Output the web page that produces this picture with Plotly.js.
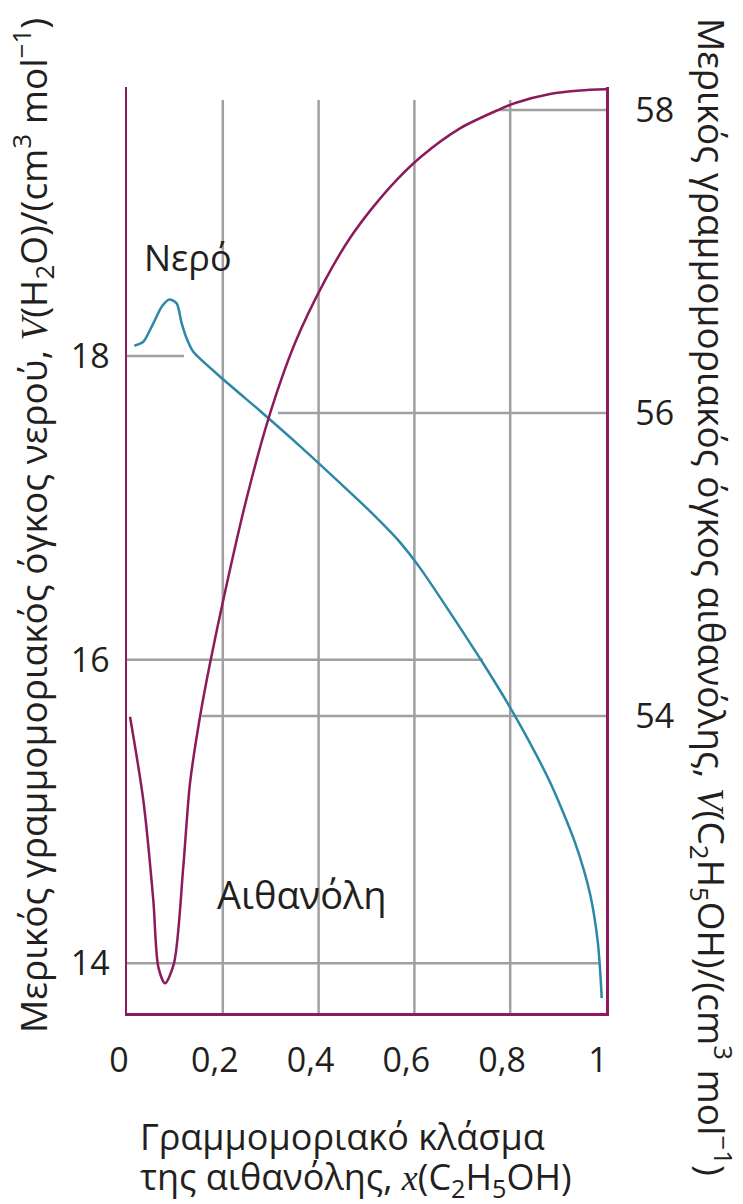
<!DOCTYPE html>
<html>
<head>
<meta charset="utf-8">
<script src="https://cdn.plot.ly/plotly-3.0.1.min.js"></script>
<style>html,body{margin:0;padding:0;background:#fff;}#chart{width:743px;height:1204px;}</style>
</head>
<body>
<div id="chart"></div>
<script>
// ---- data ----
const waterX = [0.0153, 0.0341, 0.0549, 0.0724, 0.0883, 0.1037, 0.1142, 0.1259, 0.1384, 0.2025, 0.278, 0.361, 0.445, 0.507, 0.566, 0.612, 0.743, 0.812, 0.883, 0.935, 0.967, 0.983, 0.990, 0.991];
const waterV = [18.068, 18.094, 18.215, 18.325, 18.373, 18.347, 18.215, 18.105, 18.028, 17.842, 17.638, 17.407, 17.163, 16.979, 16.788, 16.603, 15.978, 15.619, 15.194, 14.798, 14.453, 14.136, 13.837, 13.771];

const ethX = [0.0063, 0.034, 0.0549, 0.0653, 0.0793, 0.0981, 0.1175, 0.1315, 0.1524, 0.1733, 0.2010, 0.2463, 0.2944, 0.3507, 0.4134, 0.4656, 0.5136, 0.5637, 0.6138, 0.6952, 0.7745, 0.8121, 0.8831, 0.9457, 1.0];
const ethV = [53.995, 53.446, 52.785, 52.345, 52.236, 52.368, 53.005, 53.556, 53.995, 54.348, 54.766, 55.393, 55.954, 56.462, 56.876, 57.155, 57.359, 57.541, 57.692, 57.879, 58.0, 58.048, 58.106, 58.129, 58.137];

const xTickVals = [0, 0.2, 0.4, 0.6, 0.8, 1];
const xTickText = ['0', '0,2', '0,4', '0,6', '0,8', '1'];
const leftTickVals = [14, 16, 18];
const leftTickText = ['14', '16', '18'];
const rightTickVals = [54, 56, 58];
const rightTickText = ['54', '56', '58'];

const gridX = [0.2, 0.4, 0.6, 0.8];
// partial horizontal guide lines: [value, from x, to x]
const leftGuides = [[18, 0, 0.119], [16, 0, 0.743], [14, 0, 0.987]];
const rightGuides = [[58, 0.775, 1], [56, 0.315, 1], [54, 0.156, 1]];

// ---- style ----
const MAG = '#8b1b5c';
const BLUE = '#2d87a6';
const GRID = '#a0a0a0';
const TXT = '#231f20';
const FONT = 'Open Sans, Noto Sans, sans-serif';

const shapes = [];
gridX.forEach(g => shapes.push({type:'line', layer:'below', xref:'x', yref:'paper', x0:g, x1:g, y0:0, y1:0.986, line:{color:GRID, width:2.5}}));
leftGuides.forEach(r => shapes.push({type:'line', layer:'below', xref:'x', yref:'y', x0:r[1], x1:r[2], y0:r[0], y1:r[0], line:{color:GRID, width:2.5}}));
rightGuides.forEach(r => shapes.push({type:'line', layer:'below', xref:'x', yref:'y2', x0:r[1], x1:r[2], y0:r[0], y1:r[0], line:{color:GRID, width:2.5}}));

const traces = [
  {x: waterX, y: waterV, type:'scatter', mode:'lines', line:{color:BLUE, width:2.5, shape:'spline', smoothing:0.7}, yaxis:'y', hoverinfo:'skip'},
  {x: ethX, y: ethV, type:'scatter', mode:'lines', line:{color:MAG, width:2.5, shape:'spline', smoothing:0.8}, yaxis:'y2', hoverinfo:'skip'}
];

const serifI = s => '<span style="font-family:Liberation Serif, DejaVu Serif, serif;font-style:italic">' + s + '</span>';

const layout = {
  width: 743, height: 1204,
  margin: {l:127, r:137, t:87, b:191},
  paper_bgcolor:'#fff', plot_bgcolor:'rgba(0,0,0,0)',
  showlegend:false,
  font:{family:FONT, color:TXT},
  xaxis: {range:[0,1], tickvals:xTickVals, ticktext:xTickText, ticks:'', showgrid:false, zeroline:false,
          showline:true, linecolor:MAG, linewidth:2.5, tickfont:{size:34, color:TXT, family:FONT}, ticklabelstandoff:16, ticklabelshift:-8},
  yaxis: {range:[13.673, 19.772], tickvals:leftTickVals, ticktext:leftTickText, ticks:'', showgrid:false, zeroline:false,
          showline:true, linecolor:MAG, linewidth:2.5, tickfont:{size:34, color:TXT, family:FONT}, ticklabelstandoff:8},
  yaxis2: {range:[52.04, 58.152], overlaying:'y', side:'right', tickvals:rightTickVals, ticktext:rightTickText, ticks:'', showgrid:false, zeroline:false,
          showline:true, linecolor:MAG, linewidth:2.5, tickfont:{size:34, color:TXT, family:FONT}, ticklabelstandoff:20},
  shapes: shapes,
  annotations: [
    {xref:'paper', yref:'paper', x:-0.196, y:0.526, xanchor:'center', yanchor:'middle', textangle:-90, showarrow:false,
     font:{size:37, color:TXT, family:FONT},
     text:'Μερικός γραμμομοριακός όγκος νερού, ' + serifI('V') + '(H<sub>2</sub>O)/(cm<sup>3</sup> mol<sup>−1</sup>)'},
    {xref:'paper', yref:'paper', x:1.222, y:0.449, xanchor:'center', yanchor:'middle', textangle:90, showarrow:false,
     font:{size:37, color:TXT, family:FONT},
     text:'Μερικός γραμμομοριακός όγκος αιθανόλης, ' + serifI('V') + '(C<sub>2</sub>H<sub>5</sub>OH)/(cm<sup>3</sup> mol<sup>−1</sup>)'},
    {xref:'paper', yref:'paper', x:0.022, y:-0.133, xanchor:'left', yanchor:'middle', align:'left', showarrow:false,
     font:{size:36, color:TXT, family:FONT},
     text:'Γραμμομοριακό κλάσμα'},
    {xref:'paper', yref:'paper', x:0.022, y:-0.179, xanchor:'left', yanchor:'middle', align:'left', showarrow:false,
     font:{size:36, color:TXT, family:FONT},
     text:'της αιθανόλης, ' + serifI('x') + '(C<sub>2</sub>H<sub>5</sub>OH)'},
    {xref:'x', yref:'y', x:0.127, y:18.646, xanchor:'center', yanchor:'middle', showarrow:false,
     font:{size:36, color:TXT, family:FONT}, text:'Νερό'},
    {xref:'x', yref:'y', x:0.365, y:14.46, xanchor:'center', yanchor:'middle', showarrow:false,
     font:{size:38, color:TXT, family:FONT}, text:'Αιθανόλη'}
  ]
};

Plotly.newPlot('chart', traces, layout, {displayModeBar:false, staticPlot:true});
</script>
</body>
</html>
